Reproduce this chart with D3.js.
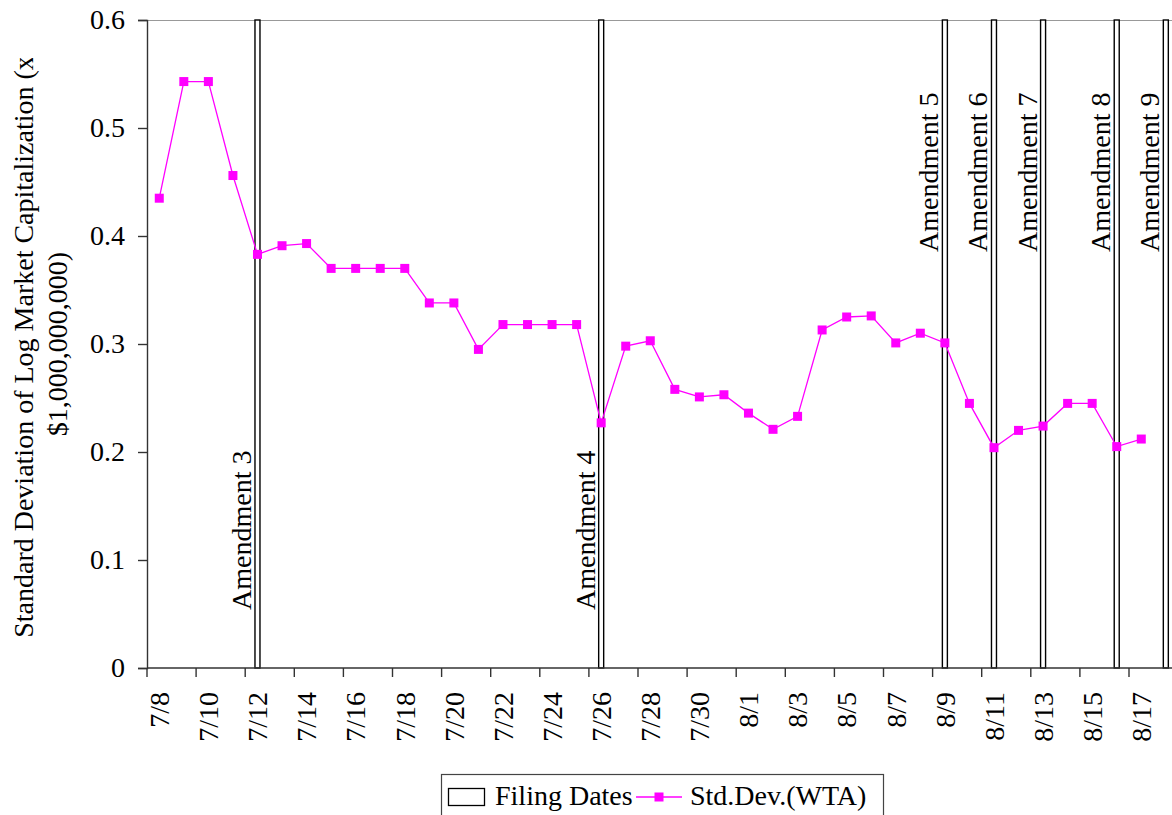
<!DOCTYPE html>
<html>
<head>
<meta charset="utf-8">
<script src="https://cdn.jsdelivr.net/npm/d3@7"></script>
<style>
  body { margin: 0; background: #fff; }
  svg { display: block; font-family: "Liberation Serif", "Times New Roman", serif; }
</style>
</head>
<body>
<div id="chart"></div>
<script>
// categories on the x axis (one per day, 7/8 .. 8/18)
const categories = ["7/8","7/9","7/10","7/11","7/12","7/13","7/14","7/15","7/16","7/17",
  "7/18","7/19","7/20","7/21","7/22","7/23","7/24","7/25","7/26","7/27","7/28","7/29",
  "7/30","7/31","8/1","8/2","8/3","8/4","8/5","8/6","8/7","8/8","8/9","8/10","8/11",
  "8/12","8/13","8/14","8/15","8/16","8/17","8/18"];

// Std.Dev.(WTA), 7/8 .. 8/17
const stdDev = [0.435, 0.543, 0.543, 0.456, 0.383, 0.391, 0.393, 0.370, 0.370, 0.370,
  0.370, 0.338, 0.338, 0.295, 0.318, 0.318, 0.318, 0.318, 0.227, 0.298, 0.303, 0.258,
  0.251, 0.253, 0.236, 0.221, 0.233, 0.313, 0.325, 0.326, 0.301, 0.310, 0.301, 0.245,
  0.204, 0.220, 0.224, 0.245, 0.245, 0.205, 0.212];

// filing dates (drawn as full-height bars)
const filingDates = ["7/12", "7/26", "8/9", "8/11", "8/13", "8/16", "8/18"];
const filingLabels = ["Amendment 3", "Amendment 4", "Amendment 5", "Amendment 6",
  "Amendment 7", "Amendment 8", "Amendment 9"];
const filingValue = 0.6;

const yTicks = [0, 0.1, 0.2, 0.3, 0.4, 0.5, 0.6];
const yTickLabels = ["0", "0.1", "0.2", "0.3", "0.4", "0.5", "0.6"];
const xTickLabels = categories.filter((d, i) => i % 2 === 0 && i < 41);

const width = 1172, height = 815;
const plotLeft = 147, plotTop = 20, plotBottom = 668;
const bandW = 24.55;
const plotRight = plotLeft + bandW * categories.length;
const fontSize = 28;
const magenta = "#ff00ff";

const svg = d3.select("#chart").append("svg")
  .attr("width", width)
  .attr("height", height);

const x = d3.scaleBand()
  .domain(categories)
  .range([plotLeft, plotRight])
  .padding(0);

const y = d3.scaleLinear()
  .domain([0, 0.6])
  .range([plotBottom, plotTop]);

const cx = d => x(d) + x.bandwidth() / 2;

// top border of plot area
svg.append("line")
  .attr("x1", plotLeft).attr("x2", plotRight)
  .attr("y1", plotTop + 0.5).attr("y2", plotTop + 0.5)
  .style("stroke", "#999").style("stroke-width", 1.2);

// filing date bars
const barW = 5;
svg.selectAll(".filing")
  .data(filingDates)
  .enter()
  .append("rect")
  .attr("class", "filing")
  .attr("x", d => cx(d) - barW / 2)
  .attr("y", y(filingValue))
  .attr("width", barW)
  .attr("height", y(0) - y(filingValue))
  .style("fill", "#fff")
  .style("stroke", "#000")
  .style("stroke-width", 1.4);

// amendment labels
svg.selectAll(".amend")
  .data(filingDates)
  .enter()
  .append("text")
  .attr("class", "amend")
  .attr("transform", (d, i) => {
    const ty = i < 2 ? 610 : 252;
    return `translate(${cx(d) - barW / 2 - 4},${ty}) rotate(-90)`;
  })
  .style("font-size", fontSize + "px")
  .style("fill", "#000")
  .text((d, i) => filingLabels[i]);

// series line
const line = d3.line()
  .x((d, i) => cx(categories[i]))
  .y(d => y(d));

svg.append("path")
  .datum(stdDev)
  .attr("d", line)
  .style("fill", "none")
  .style("stroke", magenta)
  .style("stroke-width", 1.3);

// markers
const ms = 9;
svg.selectAll(".marker")
  .data(stdDev)
  .enter()
  .append("rect")
  .attr("class", "marker")
  .attr("x", (d, i) => cx(categories[i]) - ms / 2)
  .attr("y", d => y(d) - ms / 2)
  .attr("width", ms)
  .attr("height", ms)
  .style("fill", magenta);

// y axis
const yAxis = d3.axisLeft(y)
  .tickValues(yTicks)
  .tickFormat((d, i) => yTickLabels[i])
  .tickSize(9)
  .tickPadding(13);

const gy = svg.append("g")
  .attr("transform", `translate(${plotLeft},0)`)
  .call(yAxis);
gy.select(".domain").style("stroke", "#333").style("stroke-width", 1.4);
gy.selectAll(".tick line").style("stroke", "#333").style("stroke-width", 1.4);
gy.selectAll(".tick text")
  .style("font-family", "Liberation Serif, Times New Roman, serif")
  .style("font-size", fontSize + "px")
  .style("fill", "#000");

// x axis line
svg.append("line")
  .attr("x1", plotLeft).attr("x2", plotRight)
  .attr("y1", plotBottom).attr("y2", plotBottom)
  .style("stroke", "#333").style("stroke-width", 1.4);

// x ticks at every second category boundary
svg.selectAll(".xtick")
  .data(categories.filter((d, i) => i % 2 === 0))
  .enter()
  .append("line")
  .attr("class", "xtick")
  .attr("x1", d => x(d)).attr("x2", d => x(d))
  .attr("y1", plotBottom).attr("y2", plotBottom + 9)
  .style("stroke", "#333").style("stroke-width", 1.4);

// x tick labels, rotated
svg.selectAll(".xlabel")
  .data(xTickLabels)
  .enter()
  .append("text")
  .attr("class", "xlabel")
  .attr("transform", d => `translate(${cx(d)},692) rotate(-90)`)
  .attr("dy", "0.35em")
  .attr("text-anchor", "end")
  .style("font-size", fontSize + "px")
  .style("fill", "#000")
  .text(d => d);

// y axis title (two lines, clipped near the top like the original)
svg.append("clipPath")
  .attr("id", "yclip")
  .append("rect")
  .attr("x", 0).attr("y", 58)
  .attr("width", 100).attr("height", 700);

const midY = (plotTop + plotBottom) / 2;
const ytitle = svg.append("g").attr("clip-path", "url(#yclip)");
ytitle.append("text")
  .attr("transform", `translate(33,${midY + 3}) rotate(-90)`)
  .attr("text-anchor", "middle")
  .style("font-size", fontSize + "px")
  .text("Standard Deviation of Log Market Capitalization (x");
ytitle.append("text")
  .attr("transform", `translate(67,${midY}) rotate(-90)`)
  .attr("text-anchor", "middle")
  .style("font-size", fontSize + "px")
  .text("$1,000,000,000)");

// legend
const lg = svg.append("g");
lg.append("rect")
  .attr("x", 441.5).attr("y", 774.5)
  .attr("width", 442).attr("height", 60)
  .style("fill", "#fff").style("stroke", "#444").style("stroke-width", 1.2);
lg.append("rect")
  .attr("x", 448.5).attr("y", 788.5)
  .attr("width", 36).attr("height", 17)
  .style("fill", "#fff").style("stroke", "#000").style("stroke-width", 1.3);
lg.append("text")
  .attr("x", 495).attr("y", 805)
  .style("font-size", fontSize + "px")
  .text("Filing Dates");
lg.append("line")
  .attr("x1", 636).attr("x2", 682)
  .attr("y1", 797).attr("y2", 797)
  .style("stroke", magenta).style("stroke-width", 1.3);
lg.append("rect")
  .attr("x", 659 - ms / 2).attr("y", 797 - ms / 2)
  .attr("width", ms).attr("height", ms)
  .style("fill", magenta);
lg.append("text")
  .attr("x", 690).attr("y", 805)
  .style("font-size", fontSize + "px")
  .text("Std.Dev.(WTA)");
</script>
</body>
</html>
